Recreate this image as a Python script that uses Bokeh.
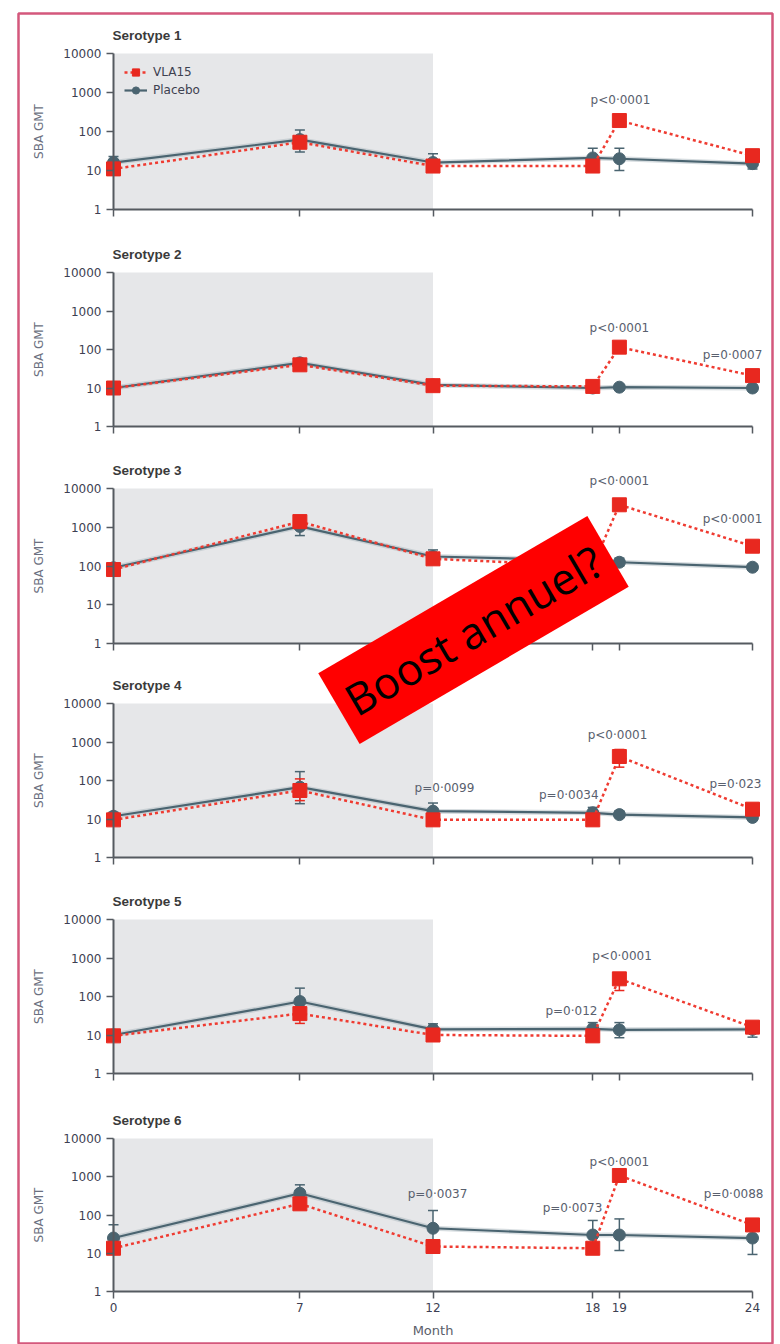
import math
from bokeh.plotting import figure
from bokeh.models import (Range1d, LogScale, LinearAxis, FixedTicker, ColumnDataSource,
                          Whisker, TeeHead, Legend, LegendItem, Label, BoxAnnotation)
from bokeh.core.properties import value
from bokeh.embed import file_html
from bokeh.resources import INLINE

# ---------------- data ----------------
months = [0, 7, 12, 18, 19, 24]
month_ticks = [0, 7, 12, 18, 19, 24]
gmt_ticks = [1, 10, 100, 1000, 10000]
serotypes = ["Serotype 1", "Serotype 2", "Serotype 3", "Serotype 4", "Serotype 5", "Serotype 6"]
shade_months = [0, 12]

vla15_s1 = [11, 53, 13, 13, 191, 24]
vla15_s2 = [10, 40, 11.5, 11, 115, 21]
vla15_s3 = [81, 1400, 153, 100, 3800, 324]
vla15_s4 = [9.5, 55, 9.5, 9.5, 420, 18]
vla15_s5 = [9.5, 36, 10, 9.5, 288, 16]
vla15_s6 = [13.5, 196, 15, 13.5, 1080, 55]

vla15_lo_s1 = [9, 38, 11, 11, 150, 20]
vla15_hi_s1 = [14, 75, 16, 16, 250, 29]
vla15_lo_s2 = [8.5, 33, 9.5, 9.5, 95, 17.5]
vla15_hi_s2 = [12, 50, 14, 13, 140, 25]
vla15_lo_s3 = [68, 1150, 125, 82, 3100, 270]
vla15_hi_s3 = [96, 1750, 190, 125, 4700, 390]
vla15_lo_s4 = [8, 30, 8, 8, 222, 15]
vla15_hi_s4 = [11.5, 110, 11.5, 11.5, 640, 22]
vla15_lo_s5 = [8, 20, 8.5, 8, 143, 13]
vla15_hi_s5 = [11.5, 53, 12, 11.5, 390, 20]
vla15_lo_s6 = [11, 150, 12.5, 11.5, 880, 45]
vla15_hi_s6 = [16.5, 330, 18, 16.5, 1320, 68]

placebo_s1 = [16, 62, 16, 21, 20, 15]
placebo_s2 = [10, 45, 12, 10, 10.5, 10]
placebo_s3 = [90, 1050, 176, 140, 125, 93]
placebo_s4 = [11.8, 67, 16, 14.5, 13, 11]
placebo_s5 = [10, 74, 14, 14.5, 13.6, 14]
placebo_s6 = [25, 370, 45, 30, 30, 25]

placebo_lo_s1 = [11, 30, 10, 12, 10, 11]
placebo_hi_s1 = [23, 110, 27, 37, 37, 20]
placebo_lo_s2 = [8.5, 35, 10, 8.5, 9, 8.5]
placebo_hi_s2 = [12, 57, 14, 12, 12, 12]
placebo_lo_s3 = [70, 610, 130, 90, 100, 80]
placebo_hi_s3 = [115, 1500, 260, 250, 160, 110]
placebo_lo_s4 = [9, 25, 11, 11, 11, 9.5]
placebo_hi_s4 = [15, 170, 26, 20, 16, 13]
placebo_lo_s5 = [8.5, 35, 11, 11, 8.5, 8.8]
placebo_hi_s5 = [12, 165, 19.5, 21, 21, 20]
placebo_lo_s6 = [12, 230, 20, 14, 11.8, 9.3]
placebo_hi_s6 = [56, 615, 131, 72, 79, 60]

pvalue_text_s1 = ["p<0·0001"]
pvalue_text_s2 = ["p<0·0001", "p=0·0007"]
pvalue_text_s3 = ["p<0·0001", "p<0·0001"]
pvalue_text_s4 = ["p=0·0099", "p=0·0034", "p<0·0001", "p=0·023"]
pvalue_text_s5 = ["p<0·0001", "p=0·012"]
pvalue_text_s6 = ["p=0·0037", "p=0·0073", "p<0·0001", "p=0·0088"]

# placement of p-value labels (month, GMT level of label centre)
pvalue_pos_s1 = [(19.04, 660)]
pvalue_pos_s2 = [(19.0, 372), (23.25, 74)]
pvalue_pos_s3 = [(19.0, 15200), (23.25, 1680)]
pvalue_pos_s4 = [(12.43, 62), (17.1, 41), (18.93, 1480), (23.36, 83)]
pvalue_pos_s5 = [(19.1, 1095), (17.2, 41)]
pvalue_pos_s6 = [(12.17, 345), (17.24, 148), (19.0, 2500), (23.29, 345)]

banner_text = "Boost annuel?"

vla_all = [vla15_s1, vla15_s2, vla15_s3, vla15_s4, vla15_s5, vla15_s6]
vla_lo_all = [vla15_lo_s1, vla15_lo_s2, vla15_lo_s3, vla15_lo_s4, vla15_lo_s5, vla15_lo_s6]
vla_hi_all = [vla15_hi_s1, vla15_hi_s2, vla15_hi_s3, vla15_hi_s4, vla15_hi_s5, vla15_hi_s6]
pla_all = [placebo_s1, placebo_s2, placebo_s3, placebo_s4, placebo_s5, placebo_s6]
pla_lo_all = [placebo_lo_s1, placebo_lo_s2, placebo_lo_s3, placebo_lo_s4, placebo_lo_s5, placebo_lo_s6]
pla_hi_all = [placebo_hi_s1, placebo_hi_s2, placebo_hi_s3, placebo_hi_s4, placebo_hi_s5, placebo_hi_s6]
ptext_all = [pvalue_text_s1, pvalue_text_s2, pvalue_text_s3, pvalue_text_s4, pvalue_text_s5, pvalue_text_s6]
ppos_all = [pvalue_pos_s1, pvalue_pos_s2, pvalue_pos_s3, pvalue_pos_s4, pvalue_pos_s5, pvalue_pos_s6]

# ---------------- layout ----------------
W, H = 780, 1344
B_L, B_R, B_T, B_B = 18, 8, 13, 0
frame_left = B_L
frame_right = W - B_R
frame_top = B_T
frame_bot = H - B_B

X0_PX, X24_PX = 113.0, 752.0
px_per_month = (X24_PX - X0_PX) / 24.0
x_start = (frame_left - X0_PX) / px_per_month
x_end = (frame_right - X0_PX) / px_per_month

panel_top_px = [53, 272, 488, 703, 919, 1138]
panel_bot_px = [209, 426, 643, 857, 1073, 1291]

RED = "#e8281f"
RED_LINE = "#ef3b31"
SLATE = "#4a6470"
AXIS = "#555a60"
TICK_TXT = "#3d3f52"
PTXT = "#59606e"
SHADE = "#e6e7e9"

p = figure(width=W, height=H, output_backend="svg", toolbar_location=None,
           x_range=Range1d(x_start, x_end), y_range=Range1d(0, 1),
           x_axis_location=None, y_axis_location=None,
           min_border_left=B_L, min_border_right=B_R, min_border_top=B_T, min_border_bottom=B_B)
p.grid.visible = False
p.outline_line_color = "#d4587c"
p.outline_line_width = 2.5
p.background_fill_color = "white"
p.border_fill_color = "white"

yr, ys = {}, {}
for i in range(6):
    t, b = panel_top_px[i], panel_bot_px[i]
    dec = (b - t) / 4.0
    yr[f"s{i}"] = Range1d(10 ** (-(frame_bot - b) / dec), 10 ** (4 + (t - frame_top) / dec))
    ys[f"s{i}"] = LogScale()
p.extra_y_ranges = yr
p.extra_y_scales = ys

legend_items = []
for i in range(6):
    rn = f"s{i}"
    t, b = panel_top_px[i], panel_bot_px[i]
    dec = (b - t) / 4.0

    p.add_layout(BoxAnnotation(left=shade_months[0], right=shade_months[1],
                               bottom=gmt_ticks[0], top=gmt_ticks[-1], y_range_name=rn,
                               fill_color=SHADE, fill_alpha=1.0, line_color=None, level="underlay"))

    src_p = ColumnDataSource(dict(month=months, gmt=pla_all[i], lo=pla_lo_all[i], hi=pla_hi_all[i]))
    src_v = ColumnDataSource(dict(month=months, gmt=vla_all[i], lo=vla_lo_all[i], hi=vla_hi_all[i]))

    for src, col in ((src_p, SLATE), (src_v, RED)):
        p.add_layout(Whisker(source=src, base="month", lower="lo", upper="hi", y_range_name=rn,
                             line_color=col, line_width=1.5,
                             upper_head=TeeHead(size=10, line_color=col, line_width=1.5),
                             lower_head=TeeHead(size=10, line_color=col, line_width=1.5)))

    # axes
    yax = LinearAxis(y_range_name=rn, fixed_location=months[0],
                     ticker=FixedTicker(ticks=gmt_ticks), bounds=(gmt_ticks[0], gmt_ticks[-1]),
                     axis_label="SBA GMT", axis_label_standoff=14,
                     axis_label_text_font="DejaVu Sans", axis_label_text_font_size="12px",
                     axis_label_text_font_style="normal", axis_label_text_color="#6b7080",
                     axis_line_color=AXIS, axis_line_width=2,
                     major_tick_line_color=AXIS, major_tick_line_width=1.5,
                     major_tick_out=7, major_tick_in=0,
                     minor_tick_line_color=None,
                     major_label_standoff=5, major_label_text_font="DejaVu Sans",
                     major_label_text_font_size="12px", major_label_text_color=TICK_TXT)
    p.add_layout(yax, "left")
    last = (i == 5)
    xax = LinearAxis(y_range_name=rn, fixed_location=gmt_ticks[0],
                     ticker=FixedTicker(ticks=month_ticks), bounds=(month_ticks[0], month_ticks[-1]),
                     axis_line_color=AXIS, axis_line_width=2,
                     major_tick_line_color=AXIS, major_tick_line_width=1.5,
                     major_tick_out=7, major_tick_in=0, minor_tick_line_color=None,
                     major_label_standoff=4, major_label_text_font="DejaVu Sans",
                     major_label_text_font_size="12px",
                     major_label_text_color=TICK_TXT if last else None)
    if last:
        xax.axis_label = "Month"
        xax.axis_label_text_font = "DejaVu Sans"
        xax.axis_label_text_font_size = "13px"
        xax.axis_label_text_font_style = "normal"
        xax.axis_label_text_color = "#5a5e6a"
        xax.axis_label_standoff = 8
    p.add_layout(xax, "below")

    # placebo
    p.line("month", "gmt", source=src_p, y_range_name=rn, line_color="#a6b4bb",
           line_width=5, line_alpha=0.45)
    pl_line = p.line("month", "gmt", source=src_p, y_range_name=rn, line_color=SLATE, line_width=2.2)
    pl_pts = p.scatter("month", "gmt", source=src_p, y_range_name=rn, marker="circle", size=12,
                       fill_color=SLATE, line_color=SLATE)
    # VLA15
    v_line = p.line("month", "gmt", source=src_v, y_range_name=rn, line_color=RED_LINE,
                    line_width=2.5, line_dash="3 3")
    v_pts = p.scatter("month", "gmt", source=src_v, y_range_name=rn, marker="square", size=14,
                      fill_color=RED, line_color=RED)
    if i == 0:
        legend_items = [LegendItem(label="VLA15", renderers=[v_line, v_pts]),
                        LegendItem(label="Placebo", renderers=[pl_line, pl_pts])]

    # title
    p.text(x=[months[0]], y=[10 ** (4 + 18 / dec)], text=[serotypes[i]], y_range_name=rn,
           text_font=value("Liberation Sans"), text_font_style="bold", text_font_size="13.5px",
           text_color="#3a3a3a", text_align="left", text_baseline="middle", x_offset=-1)

    # p-values
    px = [q[0] for q in ppos_all[i]]
    py = [q[1] for q in ppos_all[i]]
    p.text(x=px, y=py, text=ptext_all[i], y_range_name=rn,
           text_font=value("DejaVu Sans"), text_font_size="12px", text_color=PTXT,
           text_align="center", text_baseline="middle")

legend = Legend(items=legend_items, location=(124 - frame_left, frame_bot - 99),
                border_line_color=None, background_fill_alpha=0, padding=0, margin=0, spacing=0,
                glyph_width=23, glyph_height=18, label_height=18, label_standoff=6,
                label_text_font="DejaVu Sans", label_text_font_size="12px",
                label_text_color="#3d4150")
p.add_layout(legend)

# banner over panels 3/4 (placed in panel-3 coordinates)
b3_t, b3_b = panel_top_px[2], panel_bot_px[2]
dec3 = (b3_b - b3_t) / 4.0
banner = Label(x=(473 - X0_PX) / px_per_month, y=10 ** ((b3_b - 629.5) / dec3), y_range_name="s2",
               text=banner_text, angle=30.3, angle_units="deg",
               text_align="center", text_baseline="middle",
               text_font="Open Sans", text_font_size="44px", text_color="black",
               background_fill_color="#ff0000", background_fill_alpha=1.0, padding=11)
p.add_layout(banner)

open("out.html", "w").write(file_html(p, INLINE))
